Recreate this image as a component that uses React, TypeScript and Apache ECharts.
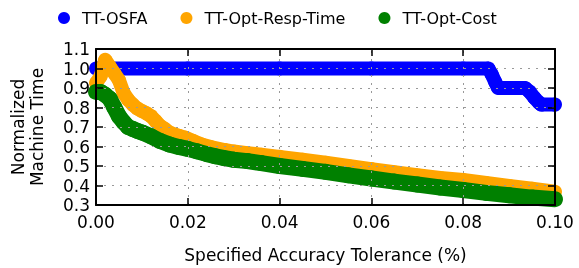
import React, { useEffect, useRef } from "react";
import * as echarts from "echarts";

const seriesNames = ["TT-OSFA", "TT-Opt-Resp-Time", "TT-Opt-Cost"];
const seriesColors = ["#0000ff", "#ffa500", "#008000"];

const osfaX = [0, 0.02, 0.04, 0.06, 0.08, 0.0855, 0.0862, 0.087, 0.0876, 0.09, 0.0935, 0.0945, 0.0955, 0.0965, 0.097, 0.1];
const osfaY = [1.0, 1.0, 1.0, 1.0, 1.0, 1.0, 0.97, 0.93, 0.9, 0.9, 0.9, 0.88, 0.85, 0.825, 0.815, 0.815];

const respX = [0, 0.001, 0.002, 0.003, 0.004, 0.005, 0.006, 0.007, 0.008, 0.009, 0.01, 0.011, 0.012, 0.013, 0.014, 0.015, 0.016, 0.018, 0.0195, 0.021, 0.023, 0.025, 0.028, 0.03, 0.033, 0.036, 0.04, 0.045, 0.05, 0.055, 0.06, 0.065, 0.07, 0.075, 0.08, 0.085, 0.09, 0.095, 0.1];
const respY = [0.925, 0.96, 1.045, 1.01, 0.975, 0.94, 0.875, 0.84, 0.815, 0.795, 0.782, 0.77, 0.755, 0.73, 0.705, 0.69, 0.672, 0.655, 0.645, 0.63, 0.61, 0.597, 0.582, 0.574, 0.566, 0.558, 0.547, 0.532, 0.517, 0.5, 0.484, 0.468, 0.453, 0.439, 0.428, 0.413, 0.398, 0.383, 0.368];

const costX = [0, 0.001, 0.002, 0.003, 0.004, 0.005, 0.006, 0.007, 0.008, 0.009, 0.01, 0.012, 0.014, 0.016, 0.018, 0.02, 0.022, 0.024, 0.026, 0.028, 0.03, 0.033, 0.036, 0.04, 0.045, 0.05, 0.055, 0.06, 0.065, 0.07, 0.075, 0.08, 0.085, 0.09, 0.095, 0.1];
const costY = [0.88, 0.88, 0.865, 0.845, 0.8, 0.755, 0.725, 0.7, 0.69, 0.68, 0.672, 0.652, 0.628, 0.61, 0.598, 0.588, 0.575, 0.562, 0.55, 0.54, 0.532, 0.525, 0.515, 0.5, 0.485, 0.47, 0.452, 0.436, 0.42, 0.405, 0.39, 0.377, 0.362, 0.35, 0.338, 0.33];

const xTicks = { min: 0, max: 0.1, interval: 0.02 };
const yTicks = { min: 0.3, max: 1.1, interval: 0.1 };
const xGridValues = [0.02, 0.04, 0.06, 0.08];
const yGridValues = [0.4, 0.5, 0.6, 0.7, 0.8, 0.9, 1.0];

const xTitle = "Specified Accuracy Tolerance (%)";
const yTitle = "Normalized\nMachine Time";

const FONT = "DejaVu Sans";

function pairs(xs: number[], ys: number[]) {
  return xs.map((x, i) => [x, ys[i]]);
}

export default function App() {
  const ref = useRef<HTMLDivElement>(null);
  useEffect(() => {
    if (!ref.current) return;
    const chart = echarts.init(ref.current, undefined, { renderer: "svg" });
    const gridStyle = { color: "#999999", type: [2, 6] as any, width: 1 };
    const frame = { show: true, onZero: false, lineStyle: { color: "#000", width: 2 } };
    const tick = { show: true, inside: true, length: 7, lineStyle: { color: "#000", width: 1.5 } };
    const sizes = [14, 14, 16];
    const data = [pairs(osfaX, osfaY), pairs(respX, respY), pairs(costX, costY)];
    const series: any[] = seriesNames.map((name, i) => ({
      name,
      type: "line",
      data: data[i],
      z: 2 + i * 0.1,
      showSymbol: true,
      showAllSymbol: true,
      symbol: "circle",
      symbolSize: sizes[i],
      clip: true,
      itemStyle: { color: seriesColors[i] },
      lineStyle: { color: seriesColors[i], width: sizes[i] },
    }));
    // dotted grid drawn on top of the data, as in the reference
    series.push({
      type: "line",
      data: [],
      z: 4,
      silent: true,
      markLine: {
        silent: true,
        symbol: "none",
        label: { show: false },
        lineStyle: gridStyle,
        data: [
          ...xGridValues.map((v) => ({ xAxis: v })),
          ...yGridValues.map((v) => ({ yAxis: v })),
        ],
      },
    });
    chart.setOption({
      animation: false,
      textStyle: { fontFamily: FONT },
      legend: {
        top: 5,
        left: 53,
        itemWidth: 26,
        itemHeight: 12,
        itemGap: 33,
        icon: "circle",
        textStyle: { fontFamily: FONT, fontSize: 16, color: "#000" },
        data: seriesNames,
      },
      grid: { left: 95, right: 24, top: 49, bottom: 61 },
      xAxis: [
        {
          type: "value",
          ...xTicks,
          z: 5,
          axisLine: frame,
          axisTick: tick,
          splitLine: { show: false },
          axisLabel: { fontFamily: FONT, fontSize: 17, color: "#000", margin: 8, formatter: (v: number) => v.toFixed(2) },
          name: xTitle,
          nameLocation: "middle",
          nameGap: 41,
          nameTextStyle: { fontFamily: FONT, fontSize: 17, color: "#000" },
        },
        {
          type: "value",
          ...xTicks,
          position: "top",
          z: 5,
          axisLine: frame,
          axisTick: tick,
          splitLine: { show: false },
          axisLabel: { show: false },
        },
      ],
      yAxis: [
        {
          type: "value",
          ...yTicks,
          z: 5,
          axisLine: frame,
          axisTick: tick,
          splitLine: { show: false },
          axisLabel: { fontFamily: FONT, fontSize: 17, color: "#000", margin: 6, formatter: (v: number) => v.toFixed(1) },
          name: yTitle,
          nameLocation: "middle",
          nameGap: 50,
          nameTextStyle: { fontFamily: FONT, fontSize: 17, color: "#000", lineHeight: 19 },
        },
        {
          type: "value",
          ...yTicks,
          position: "right",
          z: 5,
          axisLine: frame,
          axisTick: tick,
          splitLine: { show: false },
          axisLabel: { show: false },
        },
      ],
      series,
    });
    return () => chart.dispose();
  }, []);
  return <div ref={ref} style={{ position: "fixed", left: 0, top: 0, width: 579, height: 268 }} />;
}
